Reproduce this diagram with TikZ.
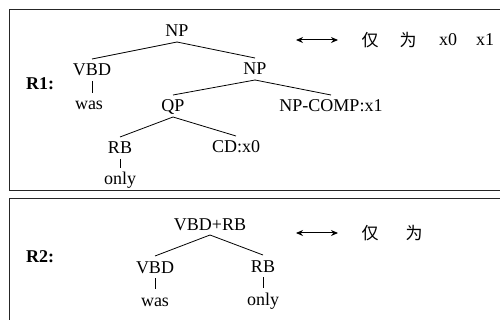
\documentclass[tikz,border=0pt]{standalone}
\usepackage{fontspec}
\setmainfont{Liberation Serif}
\newfontfamily\cjk{Noto Sans CJK SC}
\usetikzlibrary{arrows.meta}
\begin{document}
\begin{tikzpicture}[x=1pt,y=-1pt,
  lbl/.style={font=\fontsize{18}{20}\selectfont, inner sep=0pt, text height=12pt, text depth=0pt, outer sep=0pt, outer ysep=5pt, anchor=base},
  plain/.style={font=\fontsize{18}{20}\selectfont, inner sep=0pt},
  ch/.style={font=\cjk\fontsize{17}{20}\selectfont, inner sep=0pt},
  tree/.style={line width=0.8pt},
  frame/.style={line width=1pt, draw=black!85},
  dbl/.style={line width=1pt, {Stealth[length=7pt,width=6pt]}-{Stealth[length=7pt,width=6pt]}}]
\useasboundingbox (0,0) rectangle (500,320);
\clip (0,0) rectangle (500,320);
\fill[white] (0,0) rectangle (500,320);
% frames
\draw[frame] (9.5,9.5) rectangle (510,190.5);
\draw[frame] (9.5,198.5) rectangle (510,340);
% ---- R1 ----
\node[lbl, font=\fontsize{18}{20}\selectfont\bfseries] (r1) at (40,90) {R1:};
\node[lbl] (np1) at (177,37) {NP};
\node[lbl] (vbd1) at (92,76) {VBD};
\node[lbl] (np2) at (255,75) {NP};
\node[lbl] (was1) at (89,110) {was};
\node[lbl] (qp) at (173,112) {QP};
\node[lbl] (npc) at (331,112) {NP-COMP:x1};
\node[lbl] (rb1) at (120,154) {RB};
\node[lbl] (cd) at (236,153) {CD:x0};
\node[lbl] (only1) at (120,185) {only};
\draw[tree] (np1.south) -- (vbd1.north);
\draw[tree] (np1.south) -- (np2.north);
\draw[tree] (vbd1.south) -- (vbd1.south |- was1.north);
\draw[tree] (np2.south) -- (qp.north);
\draw[tree] (np2.south) -- (npc.north);
\draw[tree] (qp.south) -- (rb1.north);
\draw[tree] (qp.south) -- (cd.north);
\draw[tree] (rb1.south) -- (rb1.south |- only1.north);
\coordinate (a1l) at (296,40);
\coordinate (a1r) at (338,40);
\draw[dbl] (a1l) -- (a1r);
\node[ch] (c1a) at (370,40) {仅};
\node[ch] (c1b) at (408,40) {为};
\node[plain] (x0) at (448,40) {x0};
\node[plain] (x1) at (485,40) {x1};
% ---- R2 ----
\node[lbl, font=\fontsize{18}{20}\selectfont\bfseries] (r2) at (40,262) {R2:};
\node[lbl] (vr) at (210,230) {VBD+RB};
\node[lbl] (vbd2) at (155,273) {VBD};
\node[lbl] (rb2) at (263,272) {RB};
\node[lbl] (was2) at (155,306) {was};
\node[lbl] (only2) at (263,305) {only};
\draw[tree] (vr.south) -- (vbd2.north);
\draw[tree] (vr.south) -- (rb2.north);
\draw[tree] (vbd2.south) -- (vbd2.south |- was2.north);
\draw[tree] (rb2.south) -- (rb2.south |- only2.north);
\coordinate (a2l) at (296,233);
\coordinate (a2r) at (338,233);
\draw[dbl] (a2l) -- (a2r);
\node[ch] (c2a) at (370,233) {仅};
\node[ch] (c2b) at (414,233) {为};
\end{tikzpicture}
\end{document}
